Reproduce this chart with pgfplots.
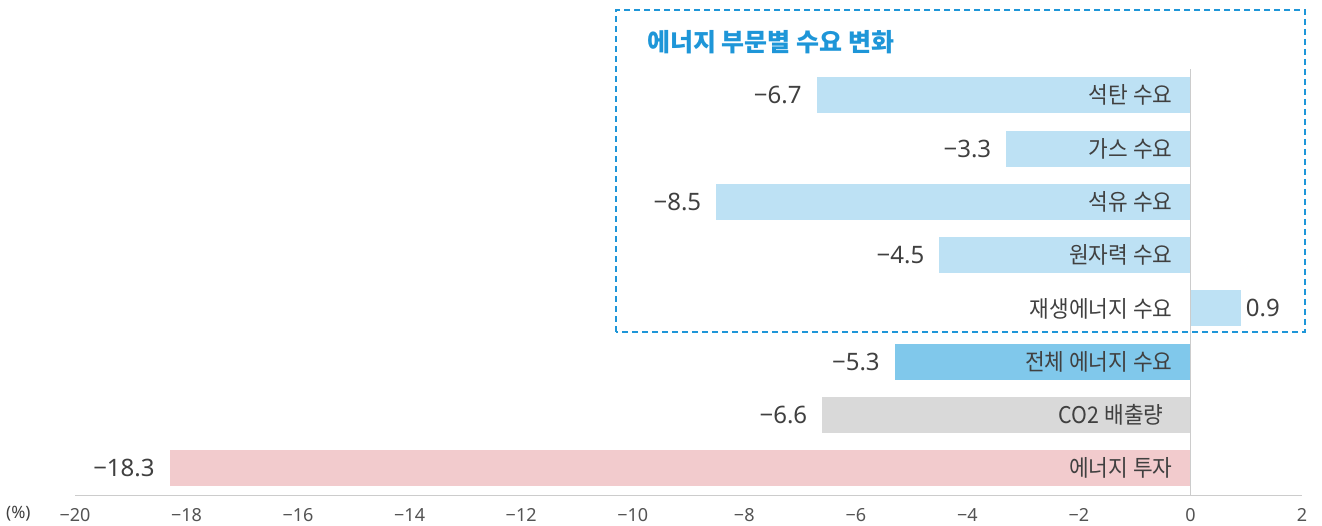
\documentclass[border=0pt]{standalone}
\usepackage{fontspec}
\setmainfont{Noto Sans}
\newfontfamily\kr{Noto Sans CJK KR}
\newfontfamily\krc[FakeStretch=0.93]{Noto Sans CJK KR}
\usepackage{pgfplots}
\pgfplotsset{compat=1.18}
\definecolor{lb}{HTML}{BDE1F4}
\definecolor{tot}{HTML}{80C8EB}
\definecolor{co}{HTML}{D9D9D9}
\definecolor{inv}{HTML}{F2CBCD}
\definecolor{ttl}{HTML}{1E96D8}
\definecolor{txt}{HTML}{404040}
\definecolor{axg}{HTML}{CCCCCC}
\newcommand{\catf}{\krc\fontsize{23}{26}\selectfont\color{txt}}
\newcommand{\valf}{\fontsize{24}{28}\selectfont\color{txt}}
\pgfplotsset{neg/.style={every node near coord/.append style={anchor=east, xshift=-15pt}},
             pos/.style={every node near coord/.append style={anchor=west, xshift=5pt}}}
\begin{document}
\begin{tikzpicture}
\path[use as bounding box] (0,0) rectangle (1322pt,525pt);
\begin{axis}[
  at={(75pt,30pt)}, anchor=south west,
  scale only axis, width=1227pt, height=426.4pt,
  xmin=-20, xmax=2, ymin=-0.5, ymax=7.5,
  axis x line=bottom, axis line style={axg, line width=1pt, -},
  hide y axis, ytick=\empty,
  xtick={-20,-18,...,2},
  xticklabels={−20,−18,−16,−14,−12,−10,−8,−6,−4,−2,0,2},
  major tick length=0pt,
  xticklabel style={font=\fontsize{18}{20}\selectfont, text=txt!90, yshift=-10pt},
  clip=false,
  xbar, bar width=36pt, bar shift=0pt,
  point meta=explicit symbolic,
  nodes near coords,
  every node near coord/.append style={font=\valf, inner sep=0pt},
]
\addplot[fill=lb, draw=none, neg] coordinates {(-6.7,7) [−6.7]};
\addplot[fill=lb, draw=none, neg] coordinates {(-3.3,6) [−3.3]};
\addplot[fill=lb, draw=none, neg] coordinates {(-8.5,5) [−8.5]};
\addplot[fill=lb, draw=none, neg] coordinates {(-4.5,4) [−4.5]};
\addplot[fill=lb, draw=none, pos] coordinates {(0.9,3) [0.9]};
\addplot[fill=tot, draw=none, neg] coordinates {(-5.3,2) [−5.3]};
\addplot[fill=co, draw=none, neg] coordinates {(-6.6,1) [−6.6]};
\addplot[fill=inv, draw=none, neg] coordinates {(-18.3,0) [−18.3]};
\draw[axg, line width=1pt] (axis cs:0,-0.5) -- (axis cs:0,7.5);
\node[anchor=east, font=\catf, inner sep=0pt] at (axis cs:-0.32,7) {석탄 수요};
\node[anchor=east, font=\catf, inner sep=0pt] at (axis cs:-0.32,6) {가스 수요};
\node[anchor=east, font=\catf, inner sep=0pt] at (axis cs:-0.32,5) {석유 수요};
\node[anchor=east, font=\catf, inner sep=0pt] at (axis cs:-0.32,4) {원자력 수요};
\node[anchor=east, font=\catf, inner sep=0pt] at (axis cs:-0.32,3) {재생에너지 수요};
\node[anchor=east, font=\catf, inner sep=0pt] at (axis cs:-0.32,2) {전체 에너지 수요};
\node[anchor=east, font=\catf, inner sep=0pt] at (axis cs:-0.48,1) {CO2 배출량};
\node[anchor=east, font=\catf, inner sep=0pt] at (axis cs:-0.32,0) {에너지 투자};
\end{axis}
\draw[ttl, line width=2.5pt, dash pattern=on 6pt off 4pt] (616pt,193pt) rectangle (1305pt,515pt);
\node[anchor=west, text=ttl, font=\kr\bfseries\fontsize{25}{28}\selectfont, inner sep=0pt] at (647pt,483pt) {에너지 부문별 수요 변화};
\node[anchor=west, text=txt, font=\fontsize{17}{20}\selectfont, inner sep=0pt] at (6pt,11pt) {(\%)};
\end{tikzpicture}
\end{document}
